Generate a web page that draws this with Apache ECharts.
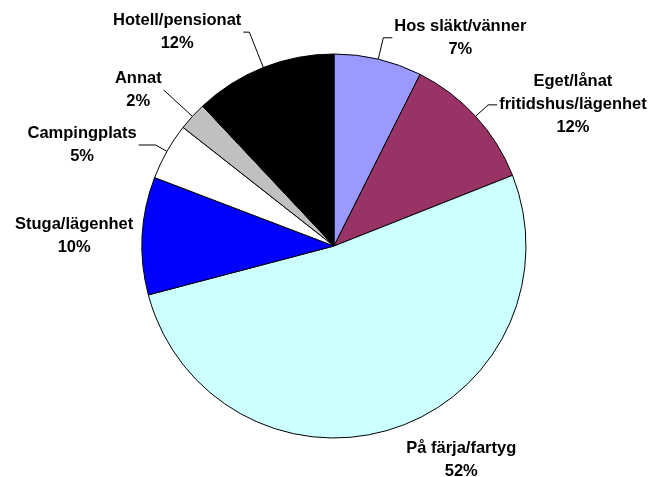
<!DOCTYPE html>
<html>
<head>
<meta charset="utf-8">
<script src="https://cdn.jsdelivr.net/npm/echarts@6/dist/echarts.min.js"></script>
<style>
  html, body { margin: 0; padding: 0; background: #fff; }
  #chart { width: 652px; height: 477px; }
</style>
</head>
<body>
<div id="chart"></div>
<script>
// andelar läst ur bilden (medsols från klockan 12)
const categories = [
  'Hos släkt/vänner',
  'Eget/lånat\nfritidshus/lägenhet',
  'På färja/fartyg',
  'Stuga/lägenhet',
  'Campingplats',
  'Annat',
  'Hotell/pensionat'
]
const shares = [7.4, 11.6, 51.9, 9.9, 4.8, 2.4, 12.0]
const colors = ['#9999FF', '#993366', '#CCFFFF', '#0000FF', '#FFFFFF', '#C0C0C0', '#000000']

// ledarlinjer: [längd radiellt, längd vågrätt, synlig]
const leaders = [
  [22, 9, true],
  [17, 9, true],
  [33, 0, false],
  [4, 3, false],
  [13, 17, true],
  [39, 0, true],
  [38, 6, true]
]

const txt = {
  fontFamily: 'Liberation Sans, Arial, sans-serif',
  fontWeight: 'bold',
  fontSize: 16.5,
  lineHeight: 23,
  color: '#000'
}

const chart = echarts.init(document.getElementById('chart'))

chart.setOption({
  animation: false,
  backgroundColor: '#fff',
  series: [{
    type: 'pie',
    center: [334, 246],
    radius: 192,
    startAngle: 90,
    clockwise: true,
    avoidLabelOverlap: false,
    emphasis: { disabled: true },
    itemStyle: { borderColor: '#000', borderWidth: 1 },
    label: {
      position: 'outside',
      distanceToLabelLine: 2,
      ...txt,
      formatter: (p) => `{c|${p.name}}\n{c|${Math.round(p.percent)}%}`,
      rich: { c: { ...txt, align: 'center' } }
    },
    labelLine: {
      lineStyle: { color: '#000', width: 1 },
      smooth: false
    },
    data: categories.map((name, i) => ({
      name,
      value: shares[i],
      itemStyle: { color: colors[i] },
      labelLine: { show: leaders[i][2], length: leaders[i][0], length2: leaders[i][1] }
    }))
  }]
})
</script>
</body>
</html>
